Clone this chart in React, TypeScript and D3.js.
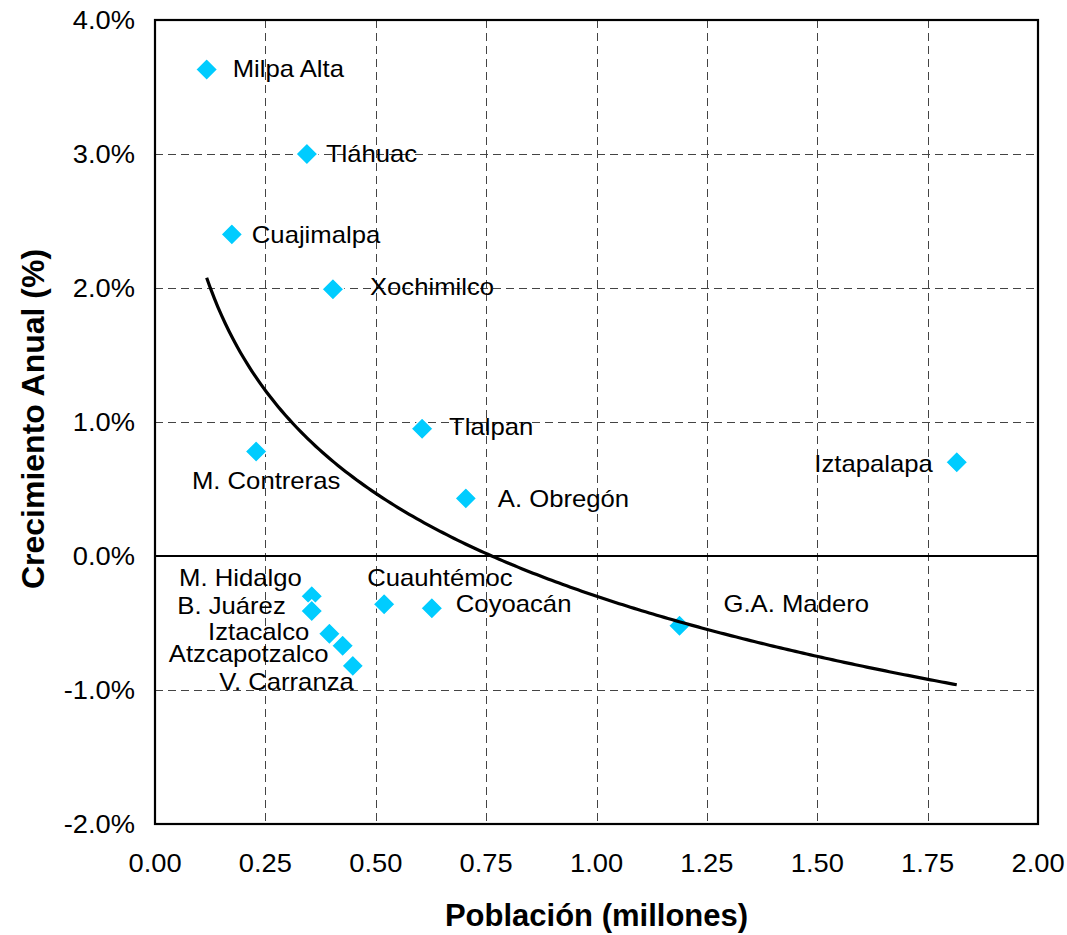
import { useEffect, useRef } from 'react'
import * as d3 from 'd3'

// Delegaciones del D.F.: población (millones) vs crecimiento anual (%)
const delegaciones = [
    'Milpa Alta', 'Tláhuac', 'Cuajimalpa', 'Xochimilco', 'Tlalpan', 'M. Contreras',
    'A. Obregón', 'Iztapalapa', 'M. Hidalgo', 'B. Juárez', 'Cuauhtémoc', 'Coyoacán',
    'Iztacalco', 'Atzcapotzalco', 'V. Carranza', 'G.A. Madero',
]
const poblacion = [
    0.117, 0.344, 0.174, 0.403, 0.605, 0.229, 0.704, 1.816, 0.355, 0.355, 0.519, 0.627,
    0.395, 0.425, 0.448, 1.188,
]
const crecimiento = [
    3.63, 3.0, 2.4, 1.99, 0.95, 0.78, 0.43, 0.7, -0.3, -0.41, -0.36, -0.39, -0.58, -0.67,
    -0.82, -0.52,
]

const xTicks = [0, 0.25, 0.5, 0.75, 1, 1.25, 1.5, 1.75, 2]
const yTicks = [-2, -1, 0, 1, 2, 3, 4]

// label placement relative to the marker (pixels)
const labelPos: Record<string, [number, number, string]> = {
    'Milpa Alta': [26, -1, 'start'],
    'Tláhuac': [19, -1, 'start'],
    'Cuajimalpa': [20, 0, 'start'],
    'Xochimilco': [37, -3, 'start'],
    'Tlalpan': [27, -2, 'start'],
    'M. Contreras': [10, 29, 'middle'],
    'A. Obregón': [32, 0, 'start'],
    'Iztapalapa': [-24, 1, 'end'],
    'M. Hidalgo': [-10, -19, 'end'],
    'B. Juárez': [-26, -6, 'end'],
    'Cuauhtémoc': [-17, -27, 'start'],
    'Coyoacán': [24, -5, 'start'],
    'Iztacalco': [-20, -2, 'end'],
    'Atzcapotzalco': [-14, 8, 'end'],
    'V. Carranza': [1, 15, 'end'],
    'G.A. Madero': [44, -22, 'start'],
}

const FONT = '"Liberation Sans", Arial, sans-serif'

export default function App() {
    const ref = useRef<SVGSVGElement>(null)

    useEffect(() => {
        document.body.style.margin = '0'
        const width = 1067
        const height = 935
        const left = 155, right = 1038, top = 20, bottom = 824

        const x = d3.scaleLinear().domain([0, 2]).range([left, right])
        const y = d3.scaleLinear().domain([-2, 4]).range([bottom, top])

        const svg = d3.select(ref.current)
        svg.selectAll('*').remove()
        svg.attr('width', width).attr('height', height).style('font-family', FONT)

        // grid
        const grid = svg.append('g')
            .attr('stroke', '#444')
            .attr('stroke-width', 1)
            .attr('stroke-dasharray', '8,5')
        grid.selectAll()
            .data(xTicks.filter((d) => d > 0 && d < 2))
            .join('line')
            .attr('x1', (d) => Math.round(x(d)) + 0.5)
            .attr('x2', (d) => Math.round(x(d)) + 0.5)
            .attr('y1', top)
            .attr('y2', bottom)
        grid.selectAll()
            .data(yTicks.filter((d) => d !== 0 && d > -2 && d < 4))
            .join('line')
            .attr('x1', left)
            .attr('x2', right)
            .attr('y1', (d) => Math.round(y(d)) + 0.5)
            .attr('y2', (d) => Math.round(y(d)) + 0.5)

        // zero line
        svg.append('line')
            .attr('x1', left).attr('x2', right)
            .attr('y1', y(0)).attr('y2', y(0))
            .attr('stroke', '#000').attr('stroke-width', 2)

        // plot border
        svg.append('rect')
            .attr('x', left).attr('y', top)
            .attr('width', right - left).attr('height', bottom - top)
            .attr('fill', 'none').attr('stroke', '#000').attr('stroke-width', 2.2)

        // tick labels
        svg.append('g')
            .selectAll()
            .data(xTicks)
            .join('text')
            .attr('transform', (d) => `translate(${x(d)},${872}) scale(1.05,1)`)
            .attr('text-anchor', 'middle')
            .attr('font-size', 26)
            .attr('fill', '#000')
            .text((d) => d.toFixed(2))
        svg.append('g')
            .selectAll()
            .data(yTicks)
            .join('text')
            .attr('transform', (d) => `translate(${135},${y(d)}) scale(1.05,1)`)
            .attr('text-anchor', 'end')
            .attr('dy', '0.35em')
            .attr('font-size', 26)
            .attr('fill', '#000')
            .text((d) => d.toFixed(1) + '%')

        // axis titles
        svg.append('text')
            .attr('x', (left + right) / 2)
            .attr('y', 926)
            .attr('text-anchor', 'middle')
            .attr('font-size', 31)
            .attr('font-weight', 'bold')
            .text('Población (millones)')
        svg.append('text')
            .attr('transform', `translate(44,${(top + bottom) / 2 - 3}) rotate(-90)`)
            .attr('text-anchor', 'middle')
            .attr('font-size', 32)
            .attr('font-weight', 'bold')
            .text('Crecimiento Anual (%)')

        const pts = delegaciones.map((name, i) => ({ name, px: poblacion[i], cr: crecimiento[i] }))

        // markers
        const s = 11
        svg.append('g')
            .selectAll()
            .data(pts)
            .join('path')
            .attr('transform', (d) => `translate(${x(d.px)},${y(d.cr)})`)
            .attr('d', `M0,${-s}L${s},0L0,${s}L${-s},0Z`)
            .attr('fill', '#00CCFF')
            .attr('stroke', '#fff')
            .attr('stroke-width', 1.5)

        // logarithmic trendline fitted to the points
        const lx = poblacion.map(Math.log)
        const mx = d3.mean(lx) as number
        const my = d3.mean(crecimiento) as number
        const slope =
            d3.sum(lx, (v, i) => (v - mx) * (crecimiento[i] - my)) /
            d3.sum(lx, (v) => (v - mx) ** 2)
        const intercept = my - slope * mx
        const [x0, x1] = d3.extent(poblacion) as [number, number]
        const trend = d3.range(0, 201).map((i) => {
            const p = x0 + ((x1 - x0) * i) / 200
            return [p, intercept + slope * Math.log(p)] as [number, number]
        })
        svg.append('path')
            .datum(trend)
            .attr('fill', 'none')
            .attr('stroke', '#000')
            .attr('stroke-width', 3.2)
            .attr('stroke-linejoin', 'round')
            .attr('d', d3.line<[number, number]>().x((d) => x(d[0])).y((d) => y(d[1])))

        // point labels
        svg.append('g')
            .selectAll()
            .data(pts)
            .join('text')
            .attr('transform', (d) => {
                const [dx, dy] = labelPos[d.name]
                return `translate(${x(d.px) + dx},${y(d.cr) + dy}) scale(1.07,1)`
            })
            .attr('text-anchor', (d) => labelPos[d.name][2])
            .attr('dy', '0.36em')
            .attr('font-size', 24)
            .attr('fill', '#000')
            .text((d) => d.name)
    }, [])

    return <svg ref={ref} style={{ display: 'block' }} />
}
